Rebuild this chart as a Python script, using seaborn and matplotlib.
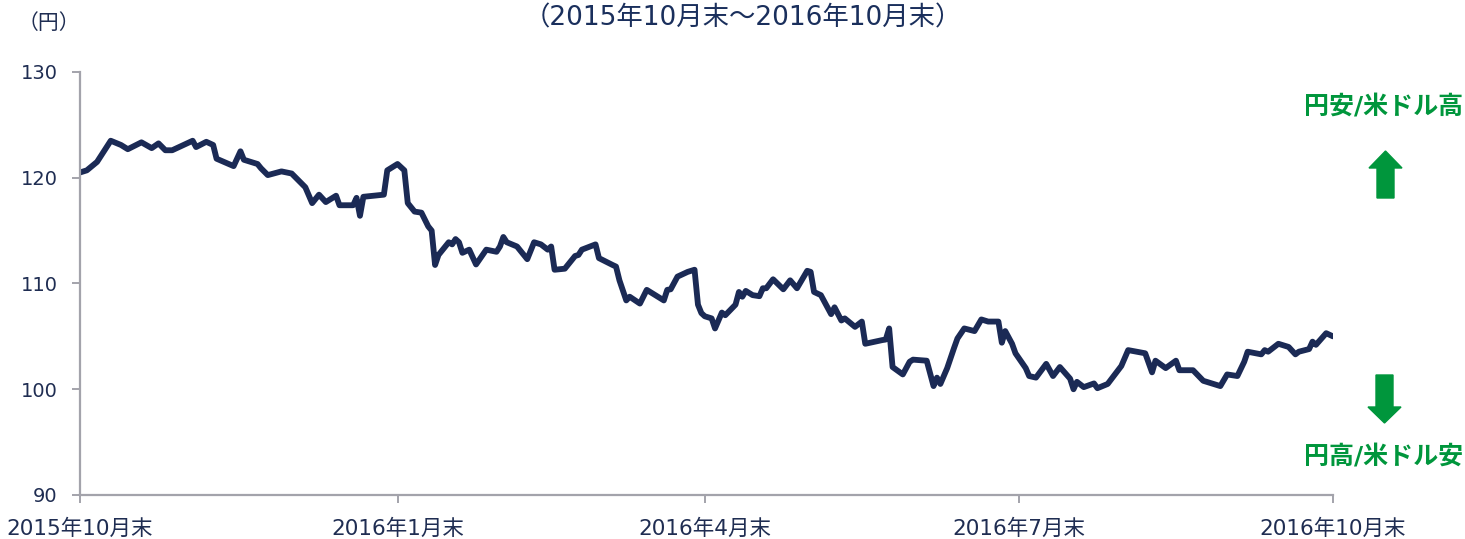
import matplotlib
matplotlib.use("Agg")
import matplotlib.pyplot as plt
from matplotlib.patches import FancyArrow
import pandas as pd
import seaborn as sns

# USD/JPY
dates = [
    "2015-10-30", "2015-11-01", "2015-11-04", "2015-11-05", "2015-11-08", "2015-11-11",
    "2015-11-13", "2015-11-17", "2015-11-20", "2015-11-22", "2015-11-24", "2015-11-26",
    "2015-11-30", "2015-12-02", "2015-12-03", "2015-12-06", "2015-12-08", "2015-12-09",
    "2015-12-14", "2015-12-16", "2015-12-17", "2015-12-21", "2015-12-22", "2015-12-24",
    "2015-12-28", "2015-12-31", "2016-01-04", "2016-01-06", "2016-01-08", "2016-01-10",
    "2016-01-13", "2016-01-14", "2016-01-18", "2016-01-19", "2016-01-20", "2016-01-21",
    "2016-01-27", "2016-01-28", "2016-01-31", "2016-02-02", "2016-02-03", "2016-02-05",
    "2016-02-07", "2016-02-09", "2016-02-10", "2016-02-11", "2016-02-12", "2016-02-15",
    "2016-02-16", "2016-02-17", "2016-02-18", "2016-02-19", "2016-02-21", "2016-02-23",
    "2016-02-26", "2016-02-29", "2016-03-01", "2016-03-02", "2016-03-03", "2016-03-06",
    "2016-03-09", "2016-03-11", "2016-03-13", "2016-03-15", "2016-03-16", "2016-03-17",
    "2016-03-20", "2016-03-23", "2016-03-24", "2016-03-25", "2016-03-29", "2016-03-30",
    "2016-04-03", "2016-04-04", "2016-04-05", "2016-04-07", "2016-04-08", "2016-04-11",
    "2016-04-13", "2016-04-18", "2016-04-19", "2016-04-20", "2016-04-22", "2016-04-25",
    "2016-04-27", "2016-04-28", "2016-04-29", "2016-04-30", "2016-05-02", "2016-05-03",
    "2016-05-05", "2016-05-06", "2016-05-09", "2016-05-10", "2016-05-11", "2016-05-12",
    "2016-05-14", "2016-05-16", "2016-05-17", "2016-05-18", "2016-05-20", "2016-05-23",
    "2016-05-25", "2016-05-27", "2016-05-30", "2016-05-31", "2016-06-01", "2016-06-03",
    "2016-06-06", "2016-06-07", "2016-06-09", "2016-06-10", "2016-06-13", "2016-06-15",
    "2016-06-16", "2016-06-21", "2016-06-22", "2016-06-23", "2016-06-24", "2016-06-27",
    "2016-06-29", "2016-06-30", "2016-07-04", "2016-07-06", "2016-07-07", "2016-07-08",
    "2016-07-10", "2016-07-12", "2016-07-13", "2016-07-15", "2016-07-18", "2016-07-20",
    "2016-07-22", "2016-07-25", "2016-07-26", "2016-07-27", "2016-07-29", "2016-07-30",
    "2016-08-02", "2016-08-03", "2016-08-05", "2016-08-08", "2016-08-10", "2016-08-12",
    "2016-08-15", "2016-08-16", "2016-08-17", "2016-08-19", "2016-08-22", "2016-08-23",
    "2016-08-26", "2016-08-30", "2016-09-01", "2016-09-06", "2016-09-08", "2016-09-09",
    "2016-09-12", "2016-09-15", "2016-09-16", "2016-09-20", "2016-09-23", "2016-09-28",
    "2016-09-30", "2016-10-03", "2016-10-05", "2016-10-06", "2016-10-10", "2016-10-11",
    "2016-10-12", "2016-10-15", "2016-10-18", "2016-10-20", "2016-10-21", "2016-10-24",
    "2016-10-25", "2016-10-26", "2016-10-29", "2016-10-31",
]
usdjpy = [
    120.5, 120.7, 121.5, 122.0, 123.5, 123.1,
    122.7, 123.35, 122.8, 123.25, 122.6, 122.6,
    123.2, 123.5, 122.9, 123.4, 123.1, 121.8,
    121.1, 122.5, 121.7, 121.3, 120.9, 120.25,
    120.6, 120.4, 119.1, 117.6, 118.4, 117.7,
    118.3, 117.4, 117.4, 118.1, 116.4, 118.2,
    118.4, 120.7, 121.3, 120.7, 117.6, 116.8,
    116.7, 115.4, 115.0, 111.75, 112.7, 113.9,
    113.7, 114.2, 113.9, 112.9, 113.2, 111.8,
    113.2, 113.0, 113.5, 114.4, 113.9, 113.5,
    112.3, 113.9, 113.7, 113.2, 113.5, 111.3,
    111.4, 112.6, 112.7, 113.2, 113.7, 112.4,
    111.75, 111.6, 110.3, 108.4, 108.75, 108.1,
    109.4, 108.4, 109.4, 109.45, 110.65, 111.1,
    111.3, 108.0, 107.2, 106.9, 106.7, 105.75,
    107.25, 107.0, 108.0, 109.2, 108.75, 109.3,
    108.9, 108.8, 109.55, 109.55, 110.4, 109.45,
    110.3, 109.55, 111.2, 111.1, 109.2, 108.9,
    107.1, 107.75, 106.5, 106.7, 105.9, 106.4,
    104.3, 104.65, 104.7, 105.75, 102.1, 101.4,
    102.6, 102.8, 102.7, 100.3, 101.1, 100.5,
    102.0, 103.9, 104.8, 105.75, 105.5, 106.6,
    106.4, 106.4, 104.4, 105.5, 104.3, 103.4,
    102.0, 101.25, 101.1, 102.4, 101.25, 102.1,
    101.0, 100.0, 100.7, 100.2, 100.55, 100.1,
    100.5, 102.2, 103.7, 103.4, 101.6, 102.7,
    102.0, 102.7, 101.8, 101.8, 100.8, 100.3,
    101.4, 101.25, 102.6, 103.55, 103.3, 103.7,
    103.55, 104.3, 104.0, 103.3, 103.55, 103.8,
    104.5, 104.2, 105.3, 105.0,
]

tick_dates = ["2015-10-30", "2016-01-31", "2016-04-30", "2016-07-31", "2016-10-31"]
tick_labels = ["2015年10月末", "2016年1月末", "2016年4月末", "2016年7月末", "2016年10月末"]
y_ticks = [90, 100, 110, 120, 130]

NAVY = "#1b2a55"
TEXT = "#1f2d52"
GREEN = "#00963c"
SPINE = "#a3a3ab"

sns.set_theme(style="white")
plt.rcParams["font.family"] = ["DejaVu Sans", "Noto Sans CJK JP"]

df = pd.DataFrame({"date": pd.to_datetime(dates), "rate": usdjpy})

fig = plt.figure(figsize=(14.65, 5.39), dpi=100)
ax = fig.add_axes([80 / 1465, 1 - 495 / 539, 1253 / 1465, 423 / 539])

sns.lineplot(data=df, x="date", y="rate", ax=ax, color=NAVY, linewidth=4.2)
for ln in ax.lines:
    ln.set_solid_joinstyle("round")
    ln.set_solid_capstyle("round")

ax.set_xlim(pd.Timestamp("2015-10-30"), pd.Timestamp("2016-10-31"))
ax.set_ylim(90, 130)
ax.set_yticks(y_ticks)
ax.set_xticks(pd.to_datetime(tick_dates))
ax.set_xticklabels(tick_labels)
ax.set_xlabel("")
ax.set_ylabel("")

for side in ("top", "right"):
    ax.spines[side].set_visible(False)
for side in ("left", "bottom"):
    ax.spines[side].set_color(SPINE)
    ax.spines[side].set_linewidth(1.6)

ax.tick_params(axis="y", direction="out", length=6, width=1.4, color=SPINE,
               labelsize=14, labelcolor=TEXT, pad=10, left=True)
ax.tick_params(axis="x", direction="out", length=6, width=1.4, color=SPINE,
               labelsize=15.5, labelcolor=TEXT, pad=11, bottom=True)

fig.text(49 / 1465, 1 - 23 / 539, "（円）", ha="center", va="center",
         fontsize=15, color=TEXT)
fig.text(743 / 1465, 1 - 18 / 539, "（2015年10月末～2016年10月末）",
         ha="center", va="center", fontsize=19, color="#1a2f5c")

fig.text(1384 / 1465, 1 - 107 / 539, "円安/米ドル高", ha="center", va="center",
         fontsize=18, fontweight="bold", color=GREEN)
fig.text(1384 / 1465, 1 - 457 / 539, "円高/米ドル安", ha="center", va="center",
         fontsize=18, fontweight="bold", color=GREEN)

# block arrows, drawn in pixel units on the figure
up = FancyArrow(1385.5, 539 - 198, 0, 47, width=17, head_width=33, head_length=17,
                length_includes_head=True, color=GREEN, transform=None)
down = FancyArrow(1384.5, 539 - 375, 0, -48, width=17, head_width=33, head_length=16,
                  length_includes_head=True, color=GREEN, transform=None)
fig.patches.extend([up, down])

fig.savefig("out.png", dpi=100)
